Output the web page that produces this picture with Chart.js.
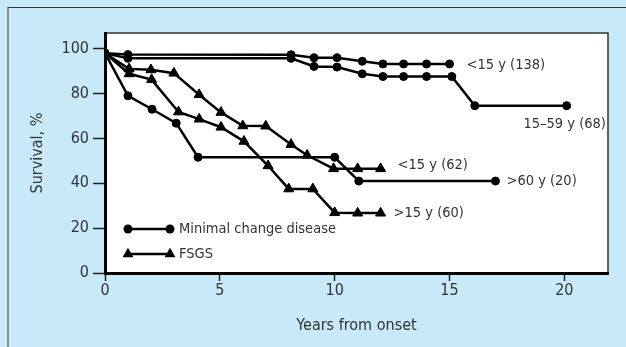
<!DOCTYPE html>
<html><head><meta charset="utf-8">
<script src="https://cdn.jsdelivr.net/npm/chart.js@4/dist/chart.umd.min.js"></script>
<style>
html,body{margin:0;padding:0;background:#c8e9f8;width:626px;height:347px;overflow:hidden}
#frame{position:absolute;left:7px;top:7px;width:619px;height:340px;border-left:2px solid #8a8a8a;border-top:1px solid #333;box-sizing:border-box}
canvas{position:absolute;left:0;top:0}
</style></head><body>
<div id="frame"></div>
<canvas id="c" width="626" height="347"></canvas>
<script>
// ---- data ----
const xTickValues = [0, 5, 10, 15, 20];
const yTickValues = [0, 20, 40, 60, 80, 100];
const legendNames = ['Minimal change disease', 'FSGS'];
const curveLabels = ['<15 y (138)', '15–59 y (68)', '>60 y (20)', '<15 y (62)', '>15 y (60)'];

const mcdUnder15Years  = [0, 1, 8.1, 9.1, 10.1, 11.2, 12.1, 13, 14, 15];
const mcdUnder15Surv   = [98, 97.4, 97.3, 96, 96, 94.4, 93.2, 93.2, 93.2, 93.2];
const mcd15to59Years   = [0, 1, 8.1, 9.1, 10.1, 11.2, 12.1, 13, 14, 15.1, 16.1, 20.1];
const mcd15to59Surv    = [98, 95.7, 95.7, 92.1, 91.8, 88.8, 87.6, 87.6, 87.6, 87.6, 74.6, 74.6];
const mcdOver60Years   = [0, 1, 2.05, 3.1, 4.05, 10, 11.05, 17];
const mcdOver60Surv    = [98, 79, 73, 66.8, 51.6, 51.6, 41, 41];
const fsgsUnder15Years = [0, 1.05, 2, 3, 4.1, 5.05, 6, 7, 8.1, 8.8, 9.95, 11, 12];
const fsgsUnder15Surv  = [98, 91, 90.6, 89.1, 79.5, 71.6, 65.6, 65.5, 57.3, 52.5, 46.5, 46.5, 46.5];
const fsgsOver15Years  = [0, 1.05, 2.03, 3.2, 4.1, 5.05, 6.05, 7.1, 8, 9.05, 10, 11, 12];
const fsgsOver15Surv   = [98, 88.8, 86.2, 71.8, 68.6, 65, 58.7, 47.8, 37.5, 37.5, 26.9, 26.7, 26.7];

const FONT = "'Liberation Sans Narrow','DejaVu Sans Condensed','Liberation Sans',sans-serif";
const TXT = '#333';

function pts(xs, ys){ return xs.map((x,i)=>({x:x, y:ys[i]})); }
function ds(xs, ys, style){
  return {data: pts(xs, ys), borderColor:'#000', backgroundColor:'#000', borderWidth:2.5,
    pointStyle: style, pointRadius: style==='circle'?4:5.8, pointBorderWidth:1,
    pointBackgroundColor:'#000', pointBorderColor:'#000', showLine:true, tension:0, fill:false};
}

// label placement relative to the last point of each curve: [align, dx, dy]
const labelPlace = [['left',17,1],['center',-2,19],['left',11,0],['left',17,-3],['left',13,0]];

const frame = {
  id:'frame',
  beforeDraw(chart){
    const {ctx, chartArea:a} = chart;
    ctx.save();
    ctx.fillStyle='#fff';
    ctx.fillRect(a.left, a.top, a.right-a.left, a.bottom-a.top);
    ctx.strokeStyle='#333'; ctx.lineWidth=1.5;
    ctx.beginPath(); ctx.moveTo(a.left, a.top); ctx.lineTo(a.right, a.top); ctx.lineTo(a.right, a.bottom); ctx.stroke();
    ctx.restore();
  },
  afterDraw(chart){
    const {ctx, chartArea:a} = chart;
    ctx.save();
    ctx.font = '14.5px ' + FONT;
    ctx.fillStyle = TXT;
    ctx.textBaseline='middle';
    chart.data.datasets.forEach((d,i)=>{
      const meta = chart.getDatasetMeta(i);
      const p = meta.data[meta.data.length-1];
      const [al,dx,dy] = labelPlace[i];
      ctx.textAlign = al;
      ctx.fillText(curveLabels[i], p.x+dx, p.y+dy);
    });
    // legend
    const styles = ['circle','triangle'];
    styles.forEach((s,i)=>{
      const y = a.bottom - 44 + i*25;
      const x0 = a.left + 23, x1 = a.left + 65;
      ctx.strokeStyle='#000'; ctx.lineWidth=2.5;
      ctx.beginPath(); ctx.moveTo(x0,y); ctx.lineTo(x1,y); ctx.stroke();
      [x0,x1].forEach(x=>{
        ctx.beginPath();
        if (s==='circle'){ ctx.arc(x,y,4.5,0,Math.PI*2); }
        else { const r=6.3; for(let k=0;k<3;k++){ const ang=k*2*Math.PI/3; const px=x+Math.sin(ang)*r, py=y-Math.cos(ang)*r; k?ctx.lineTo(px,py):ctx.moveTo(px,py);} ctx.closePath(); }
        ctx.fillStyle='#000'; ctx.fill();
      });
      ctx.fillStyle=TXT; ctx.textAlign='left';
      ctx.fillText(legendNames[i], a.left+74, y);
    });
    ctx.restore();
  }
};

new Chart(document.getElementById('c'), {
  type:'scatter',
  data:{datasets:[
    ds(mcdUnder15Years, mcdUnder15Surv, 'circle'),
    ds(mcd15to59Years, mcd15to59Surv, 'circle'),
    ds(mcdOver60Years, mcdOver60Surv, 'circle'),
    ds(fsgsUnder15Years, fsgsUnder15Surv, 'triangle'),
    ds(fsgsOver15Years, fsgsOver15Surv, 'triangle')
  ]},
  options:{
    responsive:false, devicePixelRatio:1, animation:false,
    layout:{padding:{left:0, top:33, right:18, bottom:0}},
    plugins:{legend:{display:false}, tooltip:{enabled:false}},
    scales:{
      x:{type:'linear', min:0, max:21.9,
        afterBuildTicks(s){ s.ticks = xTickValues.map(v=>({value:v})); },
        afterFit(s){ s.height = 74; },
        ticks:{color:TXT, font:{family:FONT, size:16}, padding:0, maxRotation:0},
        grid:{drawOnChartArea:false, drawTicks:true, tickLength:8, tickColor:'#222', tickWidth:1.5},
        border:{display:true, color:'#000', width:3},
        title:{display:true, text:'Years from onset', color:TXT, font:{family:FONT, size:16}, padding:{top:0,bottom:12}}
      },
      y:{type:'linear', min:0, max:107,
        afterBuildTicks(s){ s.ticks = yTickValues.map(v=>({value:v})); },
        afterFit(s){ s.width = 105; },
        ticks:{color:TXT, font:{family:FONT, size:16}, padding:4},
        grid:{drawOnChartArea:false, drawTicks:true, tickLength:12, tickColor:'#222', tickWidth:1.5},
        border:{display:true, color:'#000', width:3},
        title:{display:true, text:'Survival, %', color:TXT, font:{family:FONT, size:16}, padding:{top:28,bottom:0}}
      }
    }
  },
  plugins:[frame]
});
</script>
</body></html>
